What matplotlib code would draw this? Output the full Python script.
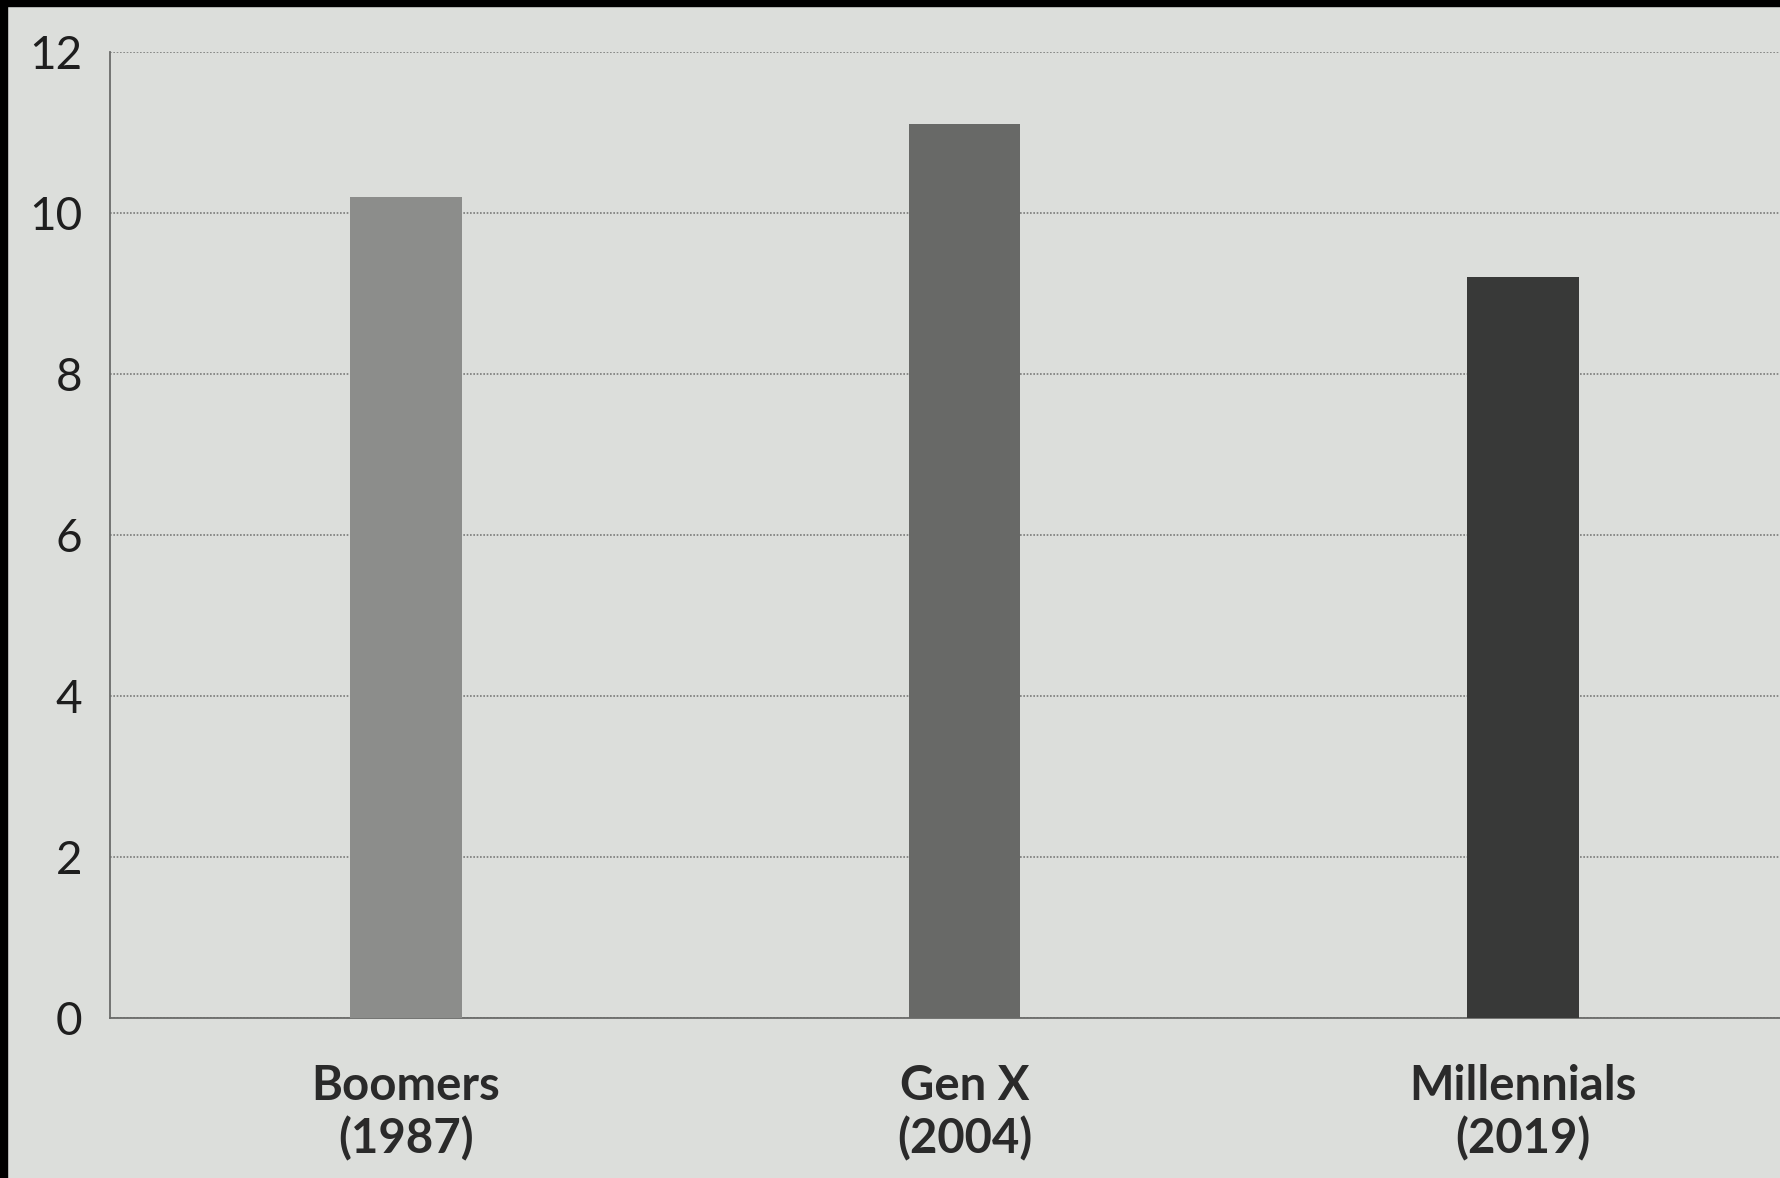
import matplotlib.pyplot as plt
from matplotlib.patches import Rectangle

# values
generations = ["Boomers\n(1987)", "Gen X\n(2004)", "Millennials\n(2019)"]
values = [10.2, 11.1, 9.2]
bar_colors = ["#8c8d8b", "#686967", "#383938"]
y_ticks = [0, 2, 4, 6, 8, 10, 12]

paper = "#dcdedb"

plt.rcParams["font.family"] = ["Lato", "DejaVu Sans"]

fig = plt.figure(figsize=(17.8, 11.78), dpi=100, facecolor=paper)
ax = fig.add_axes([0.0618, 0.1358, 0.9382, 0.8201])
ax.set_facecolor(paper)

x = list(range(len(generations)))
ax.bar(x, values, width=0.2, color=bar_colors, zorder=3)

ax.set_xlim(-0.53, 2.46)
ax.set_ylim(0, 12)
ax.set_yticks(y_ticks)
ax.set_xticks(x)
ax.set_xticklabels(generations, fontsize=34, fontweight="bold", color="#2a2a2a", linespacing=1.22)
ax.tick_params(axis="y", length=0, pad=20, labelsize=33, labelcolor="#1e1e1e")
ax.tick_params(axis="x", length=0, pad=33)

# dotted grid like the print
ax.yaxis.grid(True, linestyle=(0, (1, 1)), linewidth=1.2, color="#7a7b79", zorder=1)
for side in ["top", "right"]:
    ax.spines[side].set_visible(False)
for side in ["left", "bottom"]:
    ax.spines[side].set_linestyle((0, (1, 1)))
    ax.spines[side].set_linewidth(1.3)
    ax.spines[side].set_color("#6a6b69")

# dark border of the photo, top and left
fig.patches.append(Rectangle((0, 0.995), 1, 0.005, transform=fig.transFigure, color="black"))
fig.patches.append(Rectangle((0, 0), 0.004, 1, transform=fig.transFigure, color="black"))

plt.savefig("out.png", dpi=100, facecolor=paper)
